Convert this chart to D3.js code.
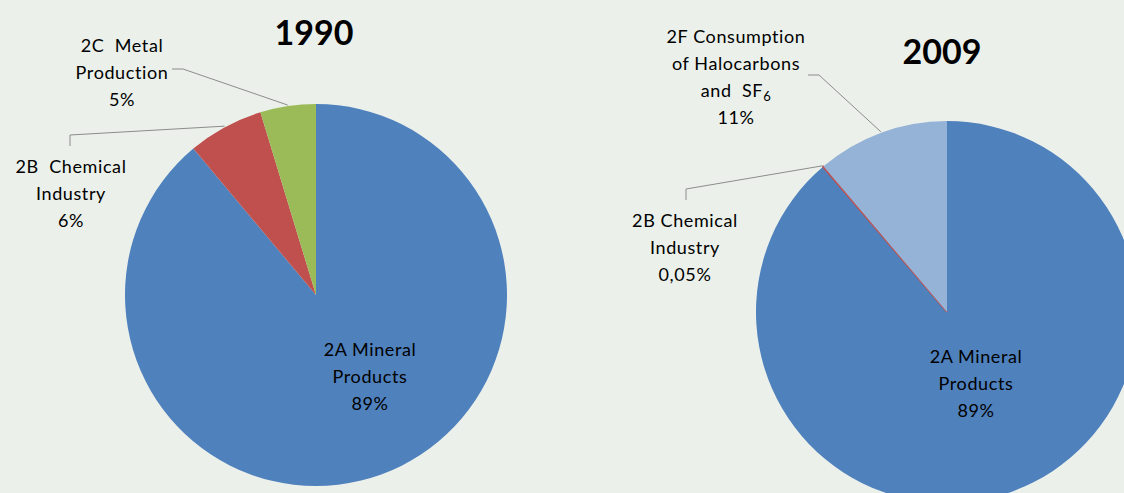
<!DOCTYPE html>
<html><head><meta charset="utf-8">
<script src="https://cdn.jsdelivr.net/npm/d3@7"></script>
<style>
html,body{margin:0;padding:0;background:#EBF0EA;}
svg{display:block;}
text{font-family:Lato,"Open Sans",sans-serif;fill:#000;white-space:pre;}
</style></head>
<body>
<svg id="c" width="1124" height="493"></svg>
<script>
// ---- data ----
const years = ["1990", "2009"];
const categories1990 = ["2A Mineral Products", "2B Chemical Industry", "2C Metal Production"];
const values1990 = [88.9, 6.4, 4.7];
const labels1990 = ["89%", "6%", "5%"];
const categories2009 = ["2A Mineral Products", "2B Chemical Industry", "2F Consumption of Halocarbons and SF6"];
const values2009 = [88.75, 0.05, 11.2];
const labels2009 = ["89%", "0,05%", "11%"];
const colors1990 = ["#4F81BD", "#C0504D", "#9BBB59"];
const colors2009 = ["#4F81BD", "#C0504D", "#95B3D7"];

// ---- layout ----
const svg = d3.select("#c");
const R = 191;
const pies = [
  {year: years[0], cx: 316, cy: 295, titleX: 314, titleY: 45, cats: categories1990, vals: values1990, labs: labels1990, cols: colors1990,
   labels: [
     {i: 0, x: 370, y: 356, lines: ["2A Mineral", "Products"]},
     {i: 1, x: 71, y: 173, lines: ["2B  Chemical", "Industry"], leader: [[70,146],[70,135]]},
     {i: 2, x: 122, y: 52, lines: ["2C  Metal", "Production"], leader: [[172,69],[183,69]]}
   ]},
  {year: years[1], cx: 947, cy: 312, titleX: 942, titleY: 64, cats: categories2009, vals: values2009, labs: labels2009, cols: colors2009,
   labels: [
     {i: 0, x: 976, y: 363, lines: ["2A Mineral", "Products"]},
     {i: 1, x: 685, y: 227, lines: ["2B Chemical", "Industry"], leader: [[686,200],[686,189]]},
     {i: 2, x: 736, y: 43, lines: ["2F Consumption", "of Halocarbons", "SF"], leader: [[808,75],[819,75]]}
   ]}
];
const lineH = 27;

const pie = d3.pie().sort(null).startAngle(0).endAngle(2 * Math.PI);
const arc = d3.arc().innerRadius(0).outerRadius(R);

pies.forEach(p => {
  const arcs = pie(p.vals);
  const g = svg.append("g").attr("transform", `translate(${p.cx},${p.cy})`);
  g.selectAll("path").data(arcs).enter().append("path")
    .attr("d", arc)
    .attr("fill", (d, i) => p.cols[i])
    .attr("stroke", (d, i) => d.value < 1 ? p.cols[i] : "none")
    .attr("stroke-width", 1.6);

  svg.append("text").attr("x", p.titleX).attr("y", p.titleY)
    .attr("text-anchor", "middle").attr("font-weight", "bold").attr("font-size", 34)
    .text(p.year);

  p.labels.forEach(L => {
    const a = arcs[L.i];
    if (L.leader) {
      const ang = (a.startAngle + a.endAngle) / 2;
      const ex = p.cx + Math.sin(ang) * (R + 1);
      const ey = p.cy - Math.cos(ang) * (R + 1);
      const pts = L.leader.concat([[ex, ey]]);
      svg.append("path").attr("d", d3.line()(pts))
        .attr("fill", "none").attr("stroke", "#8C8C8C").attr("stroke-width", 1);
    }
    const t = svg.append("text").attr("text-anchor", "middle").attr("font-size", 18)
      .attr("letter-spacing", 0.6);
    const isSF = p.year === "2009" && L.i === 2;
    L.lines.forEach((ln, k) => {
      if (isSF && k === 2) {
        const ts = t.append("tspan").attr("x", L.x).attr("y", L.y + k * lineH);
        ts.append("tspan").text("and  SF");
        ts.append("tspan").attr("font-size", 13).attr("dy", 4).text("6");
      } else {
        t.append("tspan").attr("x", L.x).attr("y", L.y + k * lineH).text(ln);
      }
    });
    t.append("tspan").attr("x", L.x).attr("y", L.y + L.lines.length * lineH).text(p.labs[L.i]);
  });
});
</script>
</body></html>
